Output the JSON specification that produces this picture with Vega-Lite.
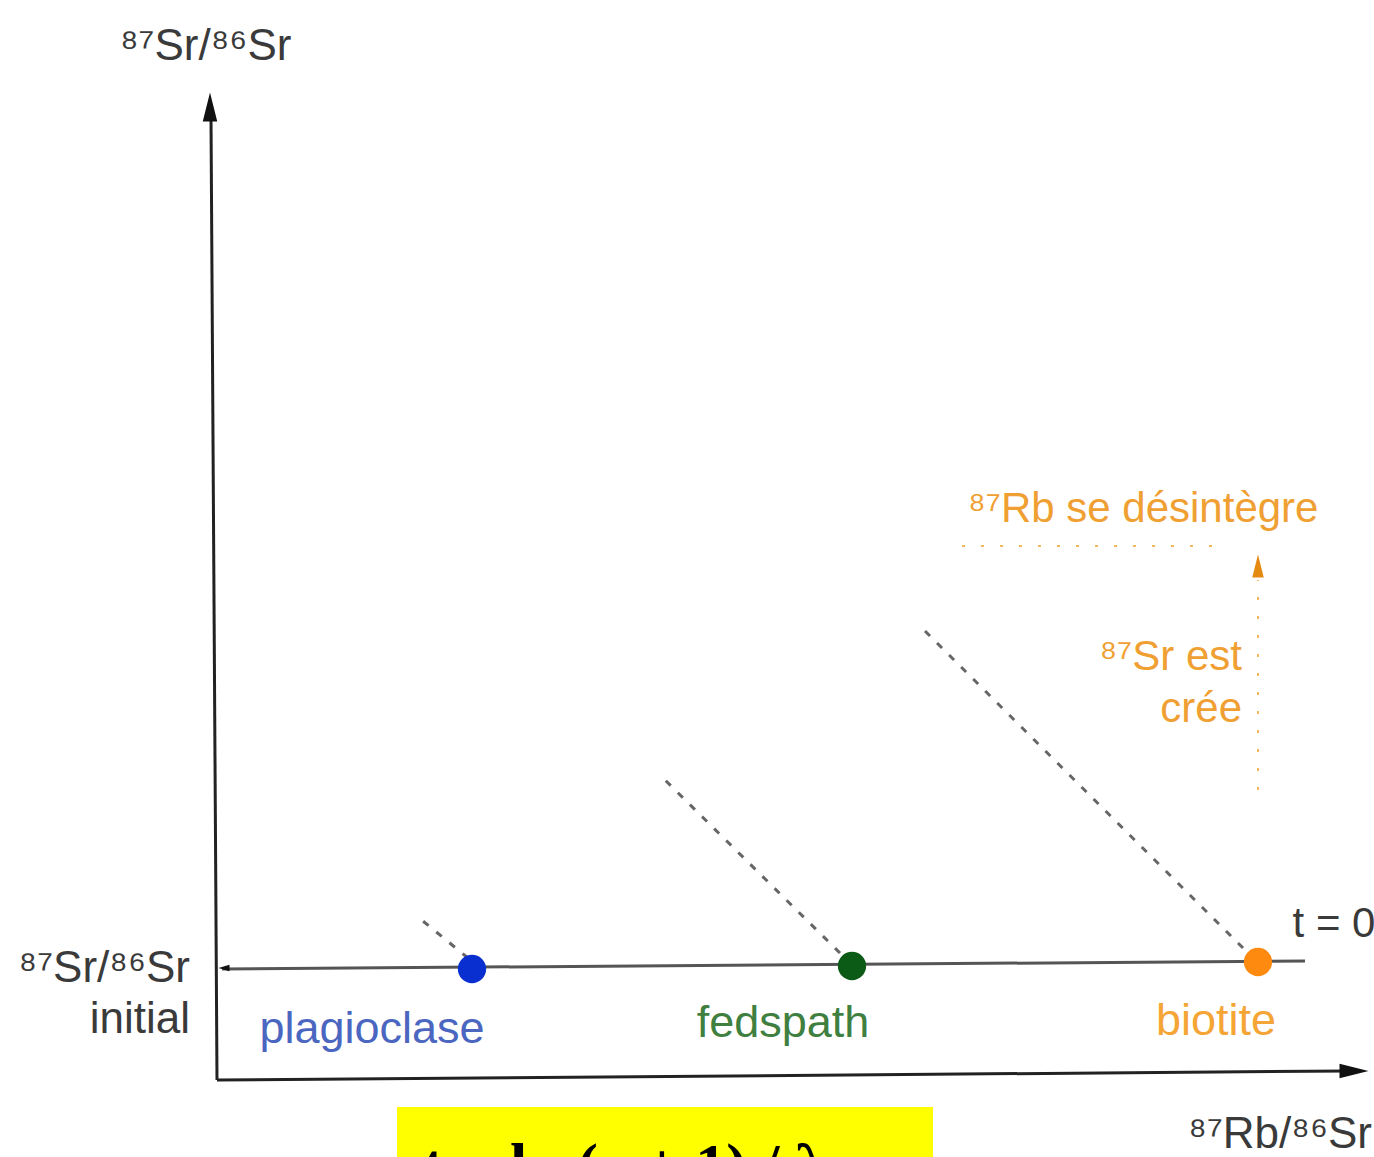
{
  "$schema": "https://vega.github.io/schema/vega-lite/v6.json",
  "width": 1374,
  "height": 1157,
  "padding": 0,
  "autosize": {"type": "none"},
  "background": "white",
  "config": {"view": {"stroke": null}, "text": {"font": "Liberation Sans"}},
  "datasets": {
    "axes": [
      {"x": 0, "y": 0, "x2": -0.06, "y2": 9.62},
      {"x": 0, "y": 0, "x2": 11.3, "y2": 0.09}
    ],
    "baseline": [
      {"x": 0.05, "y": 1.11, "x2": 10.88, "y2": 1.19}
    ],
    "decay": [
      {"mineral": "plagioclase", "x": 2.51, "y": 1.22, "x2": 2.01, "y2": 1.63},
      {"mineral": "fedspath", "x": 6.23, "y": 1.27, "x2": 4.48, "y2": 3.0},
      {"mineral": "biotite", "x": 10.26, "y": 1.32, "x2": 7.05, "y2": 4.52}
    ],
    "guides": [
      {"x": 7.45, "y": 5.34, "x2": 10.03, "y2": 5.34},
      {"x": 10.41, "y": 2.9, "x2": 10.41, "y2": 5.0}
    ],
    "minerals": [
      {"mineral": "plagioclase", "x": 2.55, "y": 1.11, "lx": 1.55, "ly": 0.37},
      {"mineral": "fedspath", "x": 6.35, "y": 1.14, "lx": 5.66, "ly": 0.43},
      {"mineral": "biotite", "x": 10.41, "y": 1.18, "lx": 9.99, "ly": 0.45}
    ],
    "upArrowAxis": [{"x": -0.07, "y": 9.73}],
    "rightArrowAxis": [{"x": 11.37, "y": 0.09}],
    "upArrowOrange": [{"x": 10.41, "y": 5.14}],
    "leftTick": [{"x": 0.07, "y": 1.12}],
    "labelsLeft": [
      {"label": "⁸⁷Sr/⁸⁶Sr", "x": -0.97, "y": 10.2}
    ],
    "labelsRight": [
      {"label": "⁸⁷Sr/⁸⁶Sr", "x": -0.27, "y": 0.98},
      {"label": "initial", "x": -0.27, "y": 0.47},
      {"label": "⁸⁷Rb/⁸⁶Sr", "x": 11.55, "y": -0.68}
    ],
    "t0": [{"label": "t = 0", "x": 11.17, "y": 1.43}],
    "annoLeft": [{"label": "⁸⁷Rb se désintègre", "x": 7.51, "y": 5.58}],
    "annoRight": [
      {"label": "⁸⁷Sr est", "x": 10.25, "y": 4.1},
      {"label": "crée", "x": 10.25, "y": 3.58}
    ],
    "box": [{"x": 1.8, "x2": 7.16, "y": -0.27, "y2": -1.3}],
    "formula": [{"label": "t = ln (a + 1) / λ", "x": 2.06, "y": -1.06}]
  },
  "encoding": {
    "x": {"field": "x", "type": "quantitative", "scale": {"domain": [-2.17, 11.57], "nice": false, "zero": false}, "axis": null},
    "y": {"field": "y", "type": "quantitative", "scale": {"domain": [-0.77, 10.8], "nice": false, "zero": false}, "axis": null}
  },
  "resolve": {"scale": {"color": "independent"}},
  "layer": [
    {
      "data": {"name": "box"},
      "mark": {"type": "rect", "fill": "#ffff00", "clip": false},
      "encoding": {"x2": {"field": "x2"}, "y2": {"field": "y2"}}
    },
    {
      "data": {"name": "formula"},
      "mark": {"type": "text", "font": "Liberation Serif", "fontWeight": "bold", "fontSize": 62, "align": "left", "baseline": "alphabetic", "color": "black", "clip": false},
      "encoding": {"text": {"field": "label"}}
    },
    {
      "data": {"name": "axes"},
      "mark": {"type": "rule", "color": "#222222", "strokeWidth": 3},
      "encoding": {"x2": {"field": "x2"}, "y2": {"field": "y2"}}
    },
    {
      "data": {"name": "baseline"},
      "mark": {"type": "rule", "color": "#555555", "strokeWidth": 3},
      "encoding": {"x2": {"field": "x2"}, "y2": {"field": "y2"}}
    },
    {
      "data": {"name": "decay"},
      "mark": {"type": "rule", "color": "#666666", "strokeWidth": 3, "strokeDash": [7, 10]},
      "encoding": {"x2": {"field": "x2"}, "y2": {"field": "y2"}}
    },
    {
      "data": {"name": "guides"},
      "mark": {"type": "rule", "color": "#f2b860", "strokeWidth": 2, "strokeDash": [3, 16]},
      "encoding": {"x2": {"field": "x2"}, "y2": {"field": "y2"}}
    },
    {
      "data": {"name": "upArrowAxis"},
      "mark": {"type": "point", "filled": true, "opacity": 1, "color": "#111111", "size": 841, "shape": "M0,-1L0.5,1L-0.5,1Z"}
    },
    {
      "data": {"name": "rightArrowAxis"},
      "mark": {"type": "point", "filled": true, "opacity": 1, "color": "#111111", "size": 841, "shape": "M1,0L-1,0.5L-1,-0.5Z"}
    },
    {
      "data": {"name": "upArrowOrange"},
      "mark": {"type": "point", "filled": true, "opacity": 1, "color": "#e58a10", "size": 529, "shape": "M0,-1L0.5,1L-0.5,1Z"}
    },
    {
      "data": {"name": "leftTick"},
      "mark": {"type": "point", "filled": true, "opacity": 1, "color": "#111111", "size": 120, "shape": "M-1,0L1,-0.6L1,0.6Z"}
    },
    {
      "data": {"name": "minerals"},
      "mark": {"type": "point", "filled": true, "opacity": 1, "size": 800},
      "encoding": {
        "color": {"field": "mineral", "type": "nominal", "legend": null,
          "scale": {"domain": ["plagioclase", "fedspath", "biotite"], "range": ["#0a2fd0", "#0b5a16", "#ff8a10"]}}
      }
    },
    {
      "data": {"name": "minerals"},
      "mark": {"type": "text", "fontSize": 45, "align": "center", "baseline": "alphabetic"},
      "encoding": {
        "x": {"field": "lx", "type": "quantitative"},
        "y": {"field": "ly", "type": "quantitative"},
        "text": {"field": "mineral"},
        "color": {"field": "mineral", "type": "nominal", "legend": null,
          "scale": {"domain": ["plagioclase", "fedspath", "biotite"], "range": ["#4a66c0", "#3f7f3f", "#f5a535"]}}
      }
    },
    {
      "data": {"name": "labelsLeft"},
      "mark": {"type": "text", "fontSize": 44, "align": "left", "baseline": "alphabetic", "color": "#3a3a3a"},
      "encoding": {"text": {"field": "label"}}
    },
    {
      "data": {"name": "labelsRight"},
      "mark": {"type": "text", "fontSize": 44, "align": "right", "baseline": "alphabetic", "color": "#3a3a3a"},
      "encoding": {"text": {"field": "label"}}
    },
    {
      "data": {"name": "t0"},
      "mark": {"type": "text", "fontSize": 42, "align": "center", "baseline": "alphabetic", "color": "#3a3a3a"},
      "encoding": {"text": {"field": "label"}}
    },
    {
      "data": {"name": "annoLeft"},
      "mark": {"type": "text", "fontSize": 42, "align": "left", "baseline": "alphabetic", "color": "#f0a032"},
      "encoding": {"text": {"field": "label"}}
    },
    {
      "data": {"name": "annoRight"},
      "mark": {"type": "text", "fontSize": 42, "align": "right", "baseline": "alphabetic", "color": "#f0a032"},
      "encoding": {"text": {"field": "label"}}
    }
  ]
}
